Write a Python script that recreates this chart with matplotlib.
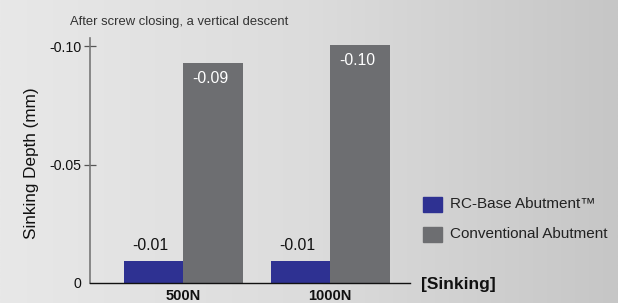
import matplotlib
matplotlib.use("Agg")
import matplotlib.pyplot as plt
import numpy as np
from matplotlib.patches import Rectangle
from matplotlib.colors import LinearSegmentedColormap

plt.rcParams['font.family'] = ['Liberation Sans', 'DejaVu Sans']

categories = ["500N", "1000N"]
rc_base = [-0.0093, -0.0093]
conventional = [-0.0928, -0.1004]
series_names = ["RC-Base Abutment\u2122", "Conventional Abutment"]
yticks = [0, -0.05, -0.10]
ytick_labels = ["0", "-0.05", "-0.10"]

blue = "#2e3192"
gray = "#6d6e71"

W, H = 618, 303
fig = plt.figure(figsize=(W/100, H/100), dpi=100)

# background gradient
bg = fig.add_axes([0, 0, 1, 1])
grad = np.linspace(0, 1, 256)[None, :]
cmap = LinearSegmentedColormap.from_list("bg", ["#e8e8e8", "#dcdcdc", "#c6c6c6"])
bg.imshow(grad, aspect="auto", cmap=cmap, extent=[0, 1, 0, 1])
bg.set_axis_off()

ax = fig.add_axes([90/W, 1-283/H, 320/W, 245/H])
ax.patch.set_alpha(0)
x = np.arange(len(categories))
w = 0.405
b1 = ax.bar(x - w/2, rc_base, width=w, color=blue, label=series_names[0], clip_on=False)
b2 = ax.bar(x + w/2, conventional, width=w, color=gray, label=series_names[1], clip_on=False)
ax.set_xlim(-0.633, 1.544)
ax.set_ylim(0, -0.1035)

for rect, v in zip(b1, rc_base):
    ax.annotate(f"{v:.2f}", (rect.get_x() + rect.get_width()/2, v), xytext=(-3, 15),
                textcoords="offset pixels", ha="center", va="center", fontsize=11.3, color="#111")
for rect, v in zip(b2, conventional):
    ax.annotate(f"{v:.2f}", (rect.get_x() + rect.get_width()/2, v), xytext=(-2, -15),
                textcoords="offset pixels", ha="center", va="center", fontsize=11.3, color="white")

ax.spines['top'].set_visible(False)
ax.spines['right'].set_visible(False)
ax.spines['left'].set_color("#777777")
ax.spines['left'].set_linewidth(1.2)
ax.spines['bottom'].set_color("#111111")
ax.spines['bottom'].set_linewidth(1.0)
ax.set_yticks(yticks)
ax.set_yticklabels(ytick_labels, fontsize=10.2, color="#111")
ax.tick_params(axis='y', direction='inout', length=8, width=0.9, color="#555", pad=2)
ytl = ax.get_yticklines()
ytl[0].set_visible(False)
ax.set_xticks(x)
ax.set_xticklabels(categories, fontsize=10.5, fontweight="bold", color="#111")
ax.tick_params(axis='x', length=0, pad=4)
ax.set_ylabel("Sinking Depth (mm)", fontsize=12.3, color="#111")
ax.yaxis.label.set_va("center")
ax.yaxis.set_label_coords(-(90-32)/320, (283-163)/245)

fig.text(70/W, 1-22/H, "After screw closing, a vertical descent", fontsize=9.4, color="#333", va="center", ha="left")
fig.text(421/W, 1-285/H, "[Sinking]", fontsize=12.5, fontweight="bold", color="#111", va="center", ha="left")

# legend
for i, (name, c) in enumerate(zip(series_names, [blue, gray])):
    yc = 204 + i*30
    fig.patches.append(Rectangle((423/W, 1-(yc+8)/H), 19/W, 15/H, transform=fig.transFigure, color=c))
    fig.text(450/W, 1-yc/H, name, fontsize=11, color="#222", va="center", ha="left")

fig.savefig("out.png", dpi=100)
